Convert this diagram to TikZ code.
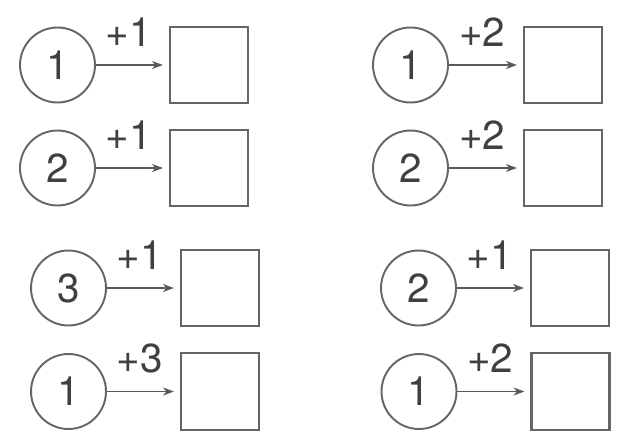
\documentclass[tikz,border=0pt]{standalone}
\usepackage{fontspec}
\setmainfont{TeX Gyre Heros}
\usepackage{tikz}
\usetikzlibrary{positioning,arrows.meta}
\tikzset{
  addarrow/.style={-{Stealth[length=2.2mm,width=1.6mm]}, line width=1pt, draw=black!65, shorten >=1.2mm},
  startnum/.style={draw=black!60, line width=1.1pt, circle, minimum size=1.5cm, inner sep=0pt, text=black!75},
  answerbox/.style={draw=black!60, line width=1.2pt, minimum width=1.56cm, minimum height=1.53cm, inner sep=0pt},
  steplabel/.style={text=black!75, inner sep=1pt}
}

\begin{document}
\begin{tikzpicture}[x=0.02cm, y=-0.02cm, every node/.style={font=\fontsize{23}{26}\selectfont}]
  \useasboundingbox (0,0) rectangle (641,446);
  % left column
  \node[startnum] (c1) at (57.5,65) {1};
  \node[startnum] (c2) at (57.5,168) {2};
  \node[startnum] (c3) at (68.5,288) {3};
  \node[startnum] (c4) at (68.5,391.5) {1};
  % right column
  \node[startnum] (c5) at (410.5,65) {1};
  \node[startnum] (c6) at (410.5,168) {2};
  \node[startnum] (c7) at (418.5,288) {2};
  \node[startnum] (c8) at (419,391.5) {1};
  % empty answer boxes
  \node[answerbox, right=1.46cm of c1] (b1) {};
  \node[answerbox, right=1.46cm of c2] (b2) {};
  \node[answerbox, right=1.46cm of c3] (b3) {};
  \node[answerbox, right=1.46cm of c4] (b4) {};
  \node[answerbox, right=1.48cm of c5] (b5) {};
  \node[answerbox, right=1.48cm of c6] (b6) {};
  \node[answerbox, right=1.46cm of c7] (b7) {};
  \node[answerbox, right=1.46cm of c8] (b8) {};
  % arrows with the step
  \draw[addarrow] (c1) -- node[steplabel, pos=0.45, above=0.32cm] {+1} (b1);
  \draw[addarrow] (c2) -- node[steplabel, pos=0.45, above=0.32cm] {+1} (b2);
  \draw[addarrow] (c3) -- node[steplabel, pos=0.45, above=0.32cm] {+1} (b3);
  \draw[addarrow] (c4) -- node[steplabel, pos=0.45, above=0.32cm] {+3} (b4);
  \draw[addarrow] (c5) -- node[steplabel, pos=0.45, above=0.32cm] {+2} (b5);
  \draw[addarrow] (c6) -- node[steplabel, pos=0.45, above=0.32cm] {+2} (b6);
  \draw[addarrow] (c7) -- node[steplabel, pos=0.45, above=0.32cm] {+1} (b7);
  \draw[addarrow] (c8) -- node[steplabel, pos=0.45, above=0.32cm] {+2} (b8);
\end{tikzpicture}
\end{document}
